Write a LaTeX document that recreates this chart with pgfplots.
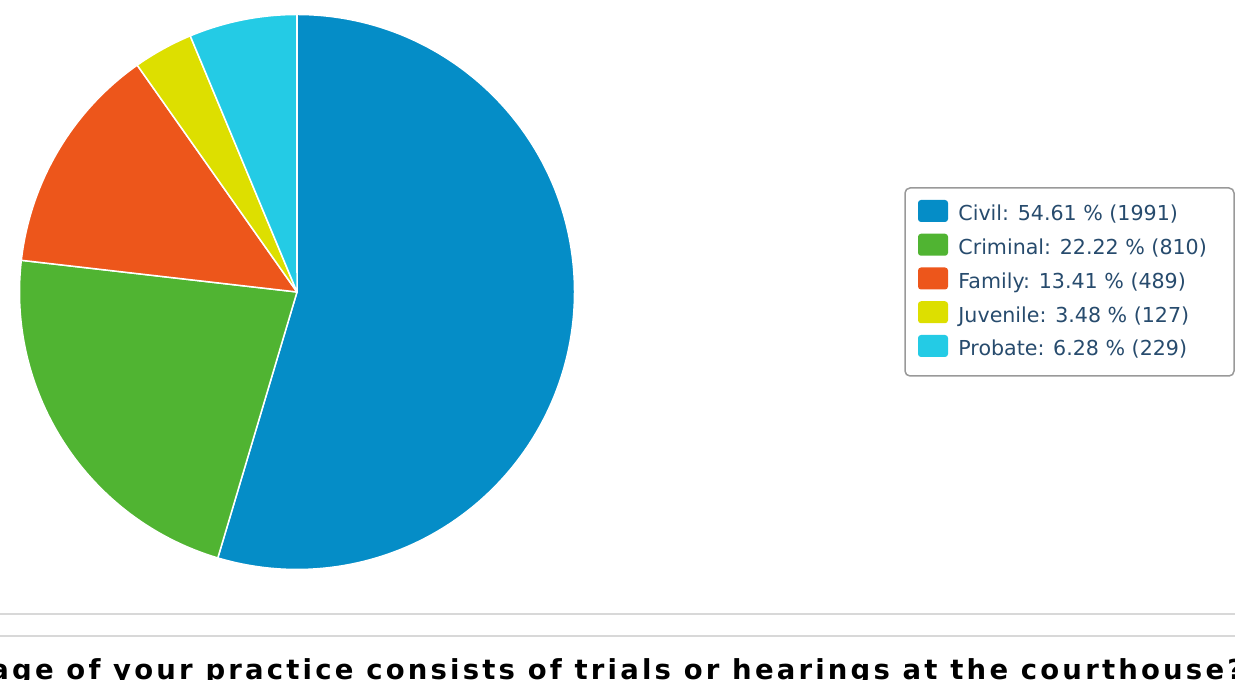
\documentclass[border=0pt]{standalone}
\usepackage{pgfplots}
\pgfplotsset{compat=1.18}
\usepackage{fontspec}
\setmainfont{DejaVu Sans}
\newfontfamily\titlefont[LetterSpace=11.6]{DejaVu Sans}
\definecolor{civil}{HTML}{058DC7}
\definecolor{crim}{HTML}{50B432}
\definecolor{fam}{HTML}{ED561B}
\definecolor{juv}{HTML}{DDDF00}
\definecolor{prob}{HTML}{24CBE5}
\definecolor{txt}{HTML}{274B6D}
\definecolor{lgrid}{HTML}{D8D8D8}
\definecolor{lborder}{HTML}{999999}
\begin{document}
\begin{tikzpicture}
\begin{axis}[x=0.5pt,y=0.5pt,xmin=0,xmax=1235,ymin=0,ymax=679,hide axis,clip=false]
\pgfplotsextra{
  \xdef\curang{90}
  \foreach \v/\c in {1991/civil,810/crim,489/fam,127/juv,229/prob}{
    \pgfmathsetmacro\endang{\curang-\v/3646*360}
    \filldraw[fill=\c, draw=white, line width=0.75pt, line join=round]
      (axis cs:297,387) -- (axis cs:{297+277.5*cos(\curang)},{387+277.5*sin(\curang)})
      arc[start angle=\curang, end angle=\endang, radius=138.75pt] -- cycle;
    \xdef\curang{\endang}
  }
}
\end{axis}
\begin{scope}[x=0.5pt,y=-0.5pt,yshift=339.5pt]
\draw[lgrid, line width=1pt] (0,614) -- (1235,614);
\draw[lgrid, line width=1pt] (0,636) -- (1235,636);
\draw[lborder, line width=0.75pt, rounded corners=2.5pt] (905,188) rectangle (1234,376);
\foreach \c/\t [count=\i from 0] in {civil/{Civil: 54.61 \% (1991)},crim/{Criminal: 22.22 \% (810)},fam/{Family: 13.41 \% (489)},juv/{Juvenile: 3.48 \% (127)},prob/{Probate: 6.28 \% (229)}}{
  \fill[\c, rounded corners=1.5pt] (918,{200+33.75*\i}) rectangle (948,{222+33.75*\i});
  \node[anchor=base west, inner sep=0pt, text=txt, font=\fontsize{10.3}{12}\selectfont] at (958,{221+33.75*\i}) {\t};
}
\node[anchor=base west, inner sep=0pt, font=\titlefont\bfseries\fontsize{13.75}{16}\selectfont] at (-10,680) {\llap{What percent}age of your practice consists of trials or hearings at the courthouse?};
\end{scope}
\pgfresetboundingbox
\useasboundingbox (0,0) rectangle (617.5pt,339.5pt);
\end{tikzpicture}
\end{document}
